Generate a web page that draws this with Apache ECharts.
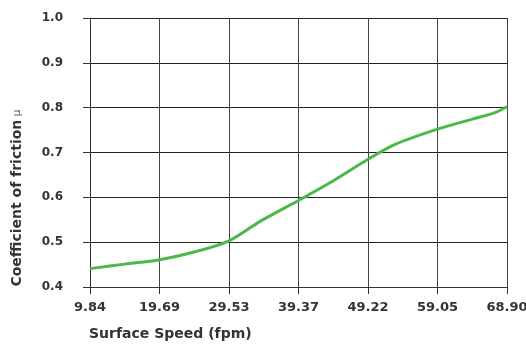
<!DOCTYPE html>
<html>
<head>
<meta charset="utf-8">
<script src="https://cdn.jsdelivr.net/npm/echarts@6/dist/echarts.min.js"></script>
<style>
  html, body { margin: 0; padding: 0; background: #fff; }
  #chart { width: 526px; height: 344px; }
</style>
</head>
<body>
<div id="chart"></div>
<script>
// x ticks are 3..21 m/min, labelled in fpm
const xTickLabels = ['9.84', '19.69', '29.53', '39.37', '49.22', '59.05', '68.90']
const yTickLabels = ['0.4', '0.5', '0.6', '0.7', '0.8', '0.9', '1.0']

// surface speed (fpm) and friction coefficient
const speedFpm = [9.84, 14.8, 19.69, 24.6, 29.53, 34.1, 39.37, 44.3, 49.22, 53.2, 59.05, 63.9, 67.2, 68.90]
const frictionMu = [0.441, 0.451, 0.461, 0.478, 0.503, 0.548, 0.593, 0.637, 0.685, 0.719, 0.752, 0.774, 0.789, 0.802]

const FT_PER_M = 3.2808
const labelFont = 'DejaVu Sans'
const textColor = '#333'

const chart = echarts.init(document.getElementById('chart'))

const option = {
  animation: false,
  title: {
    text: 'Surface Speed (fpm)',
    left: 89,
    top: 327,
    padding: 0,
    textStyle: { fontFamily: labelFont, fontSize: 14, fontWeight: 'bold', color: textColor }
  },
  graphic: [{
    type: 'text',
    x: 17,
    y: 198,
    rotation: Math.PI / 2,
    style: {
      text: '{a|Coefficient of friction} {b|μ}',
      align: 'center',
      verticalAlign: 'middle',
      rich: {
        a: { fontFamily: labelFont, fontSize: 14, fontWeight: 'bold', fill: textColor, color: textColor },
        b: { fontFamily: labelFont, fontSize: 11, fontWeight: 'normal', fill: '#666', color: '#666' }
      }
    }
  }],
  grid: {
    left: 90,
    right: 19,
    top: 18,
    bottom: 57,
    outerBoundsMode: 'none'
  },
  xAxis: {
    type: 'value',
    min: 3,
    max: 21,
    interval: 3,
    axisLine: { show: true, lineStyle: { color: '#333', width: 1 } },
    axisTick: { show: true, length: 7, lineStyle: { color: '#333' } },
    splitLine: { show: true, lineStyle: { color: '#444', width: 1 } },
    axisLabel: {
      margin: 14,
      fontFamily: labelFont,
      fontSize: 13,
      fontWeight: 'bold',
      color: textColor,
      formatter: v => xTickLabels[Math.round((v - 3) / 3)]
    }
  },
  yAxis: {
    type: 'value',
    min: 0.4,
    max: 1.0,
    interval: 0.1,
    axisLine: { show: true, lineStyle: { color: '#333', width: 1 } },
    axisTick: { show: true, length: 7, lineStyle: { color: '#333' } },
    splitLine: { show: true, lineStyle: { color: '#222', width: 1 } },
    axisLabel: {
      margin: 27,
      fontFamily: labelFont,
      fontSize: 12,
      fontWeight: 'bold',
      color: textColor,
      formatter: v => yTickLabels[Math.round((v - 0.4) * 10)]
    }
  },
  series: [{
    type: 'line',
    data: speedFpm.map((s, i) => [s / FT_PER_M, frictionMu[i]]),
    smooth: 0.3,
    showSymbol: false,
    lineStyle: { color: '#4cb848', width: 3 }
  }]
}

chart.setOption(option)
</script>
</body>
</html>
